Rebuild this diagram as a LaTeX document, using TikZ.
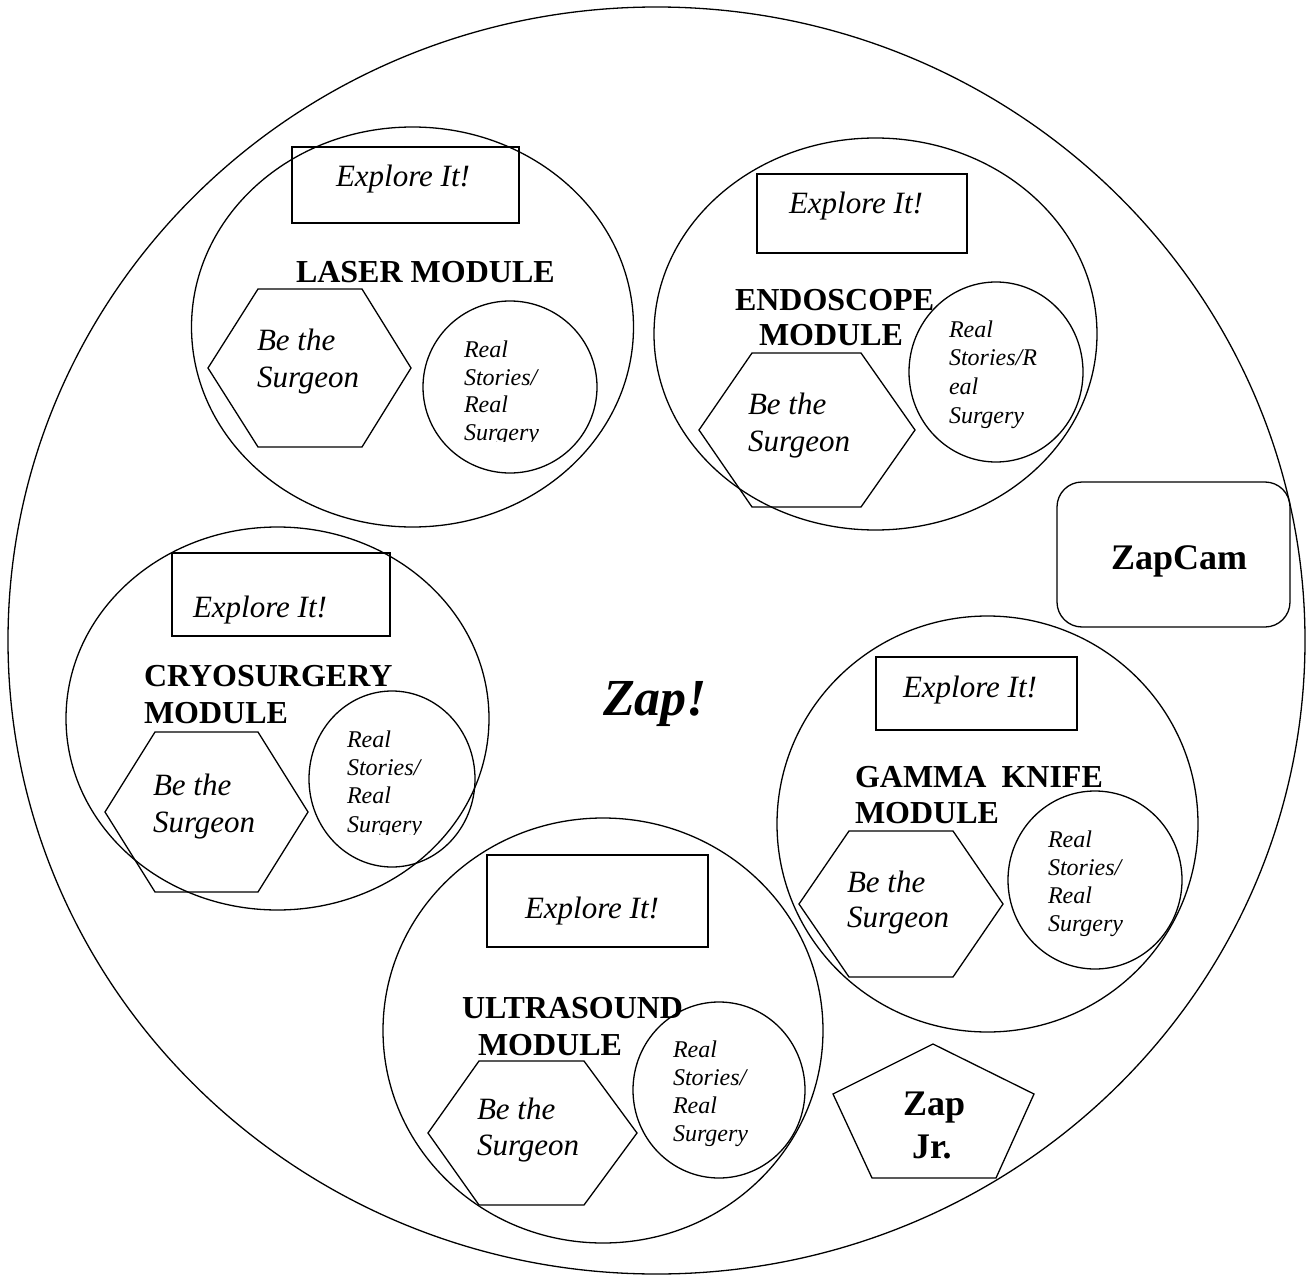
\documentclass[tikz,border=0pt]{standalone}
\usepackage{fontspec}
\setmainfont{Liberation Serif}
\begin{document}
\begin{tikzpicture}[x=1pt,y=-1pt,
  ln/.style={draw=black, line width=1.3pt, line join=miter},
  base/.style={anchor=base west, inner sep=0pt, outer sep=0pt},
  exptxt/.style={base, font=\fontsize{31}{36}\selectfont\itshape},
  bstxt/.style={base, font=\fontsize{31}{36}\selectfont\itshape},
  modtxt/.style={base, font=\fontsize{32}{36}\selectfont\bfseries},
  rstxt/.style={base, font=\fontsize{24}{28}\selectfont\itshape},
  bigtxt/.style={base, font=\fontsize{36}{40}\selectfont\bfseries}]
\useasboundingbox (0,0) rectangle (1315,1276);

% outer ellipse
\draw[ln] (656.5,640.5) ellipse [x radius=648.5, y radius=633.5];

% module circles
\draw[ln] (412.5,327) ellipse [x radius=221, y radius=200];
\draw[ln] (875.5,334) ellipse [x radius=221.5, y radius=196];
\draw[ln] (277.5,718.5) ellipse [x radius=211.5, y radius=191.5];
\draw[ln] (987.5,824) ellipse [x radius=210.5, y radius=208];
\draw[ln] (603,1030.5) ellipse [x radius=220, y radius=212.5];

% Explore boxes
\draw[ln] (292,147) rectangle (519,223);
\draw[ln] (757,174) rectangle (967,253);
\draw[ln] (172,553) rectangle (390,636);
\draw[ln] (876,657) rectangle (1077,730);
\draw[ln] (487,855) rectangle (708,947);

% hexagons
\draw[ln] (208,368) -- (258,289) -- (362,289) -- (411,368) -- (362,447) -- (258,447) -- cycle;
\draw[ln] (699,430) -- (752,353) -- (861,353) -- (915,430) -- (861,507) -- (752,507) -- cycle;
\draw[ln] (105,812) -- (155,732) -- (258,732) -- (308,812) -- (258,892) -- (155,892) -- cycle;
\draw[ln] (799,904) -- (849,831) -- (953,831) -- (1003,904) -- (953,977) -- (849,977) -- cycle;
\draw[ln] (428,1133) -- (479,1061) -- (584,1061) -- (637,1133) -- (584,1205) -- (479,1205) -- cycle;

% real stories circles
\draw[ln] (510,387) ellipse [x radius=87, y radius=86];
\draw[ln] (996,372) ellipse [x radius=87, y radius=90];
\draw[ln] (392,779) ellipse [x radius=83, y radius=88];
\draw[ln] (1095,880) ellipse [x radius=87, y radius=89];
\draw[ln] (719,1090) ellipse [x radius=86, y radius=88];

% ZapCam
\draw[ln, rounded corners=25pt] (1057,482) rectangle (1290,627);
\node[bigtxt] (zapcam) at (1111,569) {ZapCam};

% Zap Jr pentagon
\draw[ln] (933,1044) -- (1034,1094) -- (996,1178) -- (872,1178) -- (833,1094) -- cycle;
\node[bigtxt] (zapjr1) at (903,1115) {Zap};
\node[bigtxt] (zapjr2) at (912,1158) {Jr.};

% center title
\node[base, font=\fontsize{52}{60}\selectfont\bfseries\itshape] (zap) at (603,715) {Zap!};

% ---- Laser module
\node[exptxt] (lexp) at (336,187) {Explore It!};
\node[modtxt] (lmod) at (296,283) {LASER MODULE};
\node[bstxt] (lbs1) at (257,350) {Be the};
\node[bstxt] (lbs2) at (257,387) {Surgeon};
\node[rstxt] (lrs1) at (464,357) {Real};
\node[rstxt] (lrs2) at (464,385) {Stories/};
\node[rstxt] (lrs3) at (464,412) {Real};
\begin{scope}
\clip (440,415) rectangle (600,441);
\node[rstxt] (lrs4) at (464,440) {Surgery};
\end{scope}

% ---- Endoscope module
\node[exptxt] (eexp) at (789,214) {Explore It!};
\node[modtxt] (emod1) at (735,310) {ENDOSCOPE};
\node[modtxt] (emod2) at (759,345) {MODULE};
\node[bstxt] (ebs1) at (748,414) {Be the};
\node[bstxt] (ebs2) at (748,451) {Surgeon};
\node[rstxt] (ers1) at (949,337) {Real};
\node[rstxt] (ers2) at (949,365) {Stories/R};
\node[rstxt] (ers3) at (949,394) {eal};
\node[rstxt] (ers4) at (949,423) {Surgery};

% ---- Cryosurgery module
\node[exptxt] (cexp) at (193,617) {Explore It!};
\node[modtxt] (cmod1) at (144,686) {CRYOSURGERY};
\node[modtxt] (cmod2) at (144,723) {MODULE};
\node[bstxt] (cbs1) at (153,795) {Be the};
\node[bstxt] (cbs2) at (153,832) {Surgeon};
\node[rstxt] (crs1) at (347,747) {Real};
\node[rstxt] (crs2) at (347,775) {Stories/};
\node[rstxt] (crs3) at (347,803) {Real};
\begin{scope}
\clip (320,806) rectangle (480,834);
\node[rstxt] (crs4) at (347,832) {Surgery};
\end{scope}

% ---- Gamma knife module
\node[exptxt] (gexp) at (903,697) {Explore It!};
\node[modtxt] (gmod1) at (855,787) {GAMMA\hspace{15pt}KNIFE};
\node[modtxt] (gmod2) at (855,823) {MODULE};
\node[bstxt] (gbs1) at (847,892) {Be the};
\node[bstxt] (gbs2) at (847,927) {Surgeon};
\node[rstxt] (grs1) at (1048,847) {Real};
\node[rstxt] (grs2) at (1048,875) {Stories/};
\node[rstxt] (grs3) at (1048,903) {Real};
\node[rstxt] (grs4) at (1048,931) {Surgery};

% ---- Ultrasound module
\node[exptxt] (uexp) at (525,918) {Explore It!};
\node[modtxt] (umod1) at (462,1018) {ULTRASOUND};
\node[modtxt] (umod2) at (478,1055) {MODULE};
\node[bstxt] (ubs1) at (477,1119) {Be the};
\node[bstxt] (ubs2) at (477,1155) {Surgeon};
\node[rstxt] (urs1) at (673,1057) {Real};
\node[rstxt] (urs2) at (673,1085) {Stories/};
\node[rstxt] (urs3) at (673,1113) {Real};
\node[rstxt] (urs4) at (673,1141) {Surgery};
\end{tikzpicture}
\end{document}
